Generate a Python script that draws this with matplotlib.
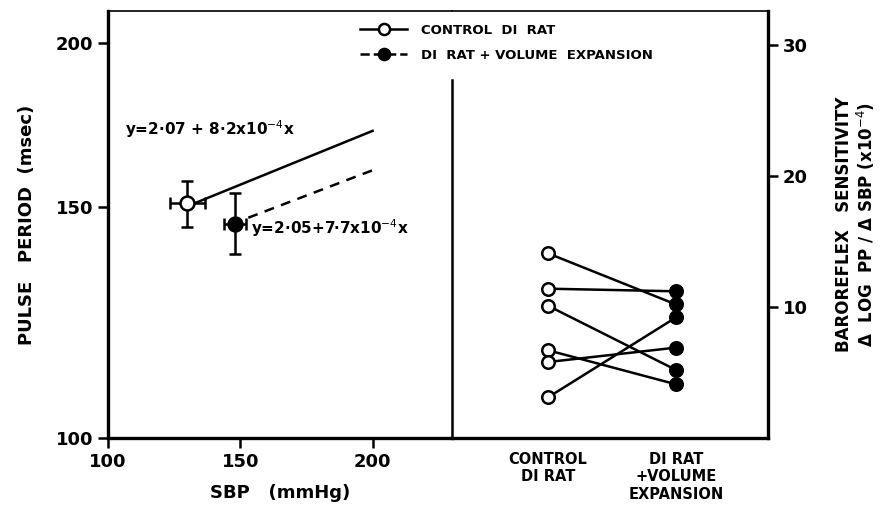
import matplotlib
matplotlib.use("Agg")
import matplotlib.pyplot as plt
from matplotlib.ticker import FixedLocator, NullLocator, FixedFormatter

# ---- data ----
# left panel: mean points (SBP mmHg, pulse period msec) with error bars
ctrl_sbp, ctrl_pp = 130, 151
ctrl_sbp_err, ctrl_pp_lo, ctrl_pp_hi = 6.5, 144.8, 157
vol_sbp, vol_pp = 148, 145.5
vol_sbp_err, vol_pp_lo, vol_pp_hi = 4, 138, 153.6
# regression lines: log PP = a + b * SBP
ctrl_a, ctrl_b = 2.07, 8.2e-4
vol_a, vol_b = 2.05, 7.7e-4
ctrl_line_sbp = [131, 200]
vol_line_sbp = [153, 200]

# right panel: baroreflex sensitivity (x1e-4), paired
categories = ["CONTROL\nDI RAT", "DI RAT\n+VOLUME\nEXPANSION"]
control_bs = [14.1, 11.4, 10.1, 6.7, 5.8, 3.1]
volume_bs = [10.2, 11.2, 5.2, 4.1, 6.9, 9.2]

left_yticks = [100, 150, 200]
left_xticks = [100, 150, 200]
right_yticks = [10, 20, 30]

# ---- figure ----
W, H = 881, 515
fig = plt.figure(figsize=(W / 100, H / 100), dpi=100)
plt.rcParams['font.family'] = ['DejaVu Sans']
fw = 'bold'

L, M, R = 108 / W, 452 / W, 768 / W
B, T = (H - 438) / H, (H - 11) / H
ax1 = fig.add_axes([L, B, M - L, T - B])
ax2 = fig.add_axes([M, B, R - M, T - B])

lw = 1.8
# left panel
ax1.set_yscale('log')
ax1.set_ylim(100, 211.5)
ax1.set_xlim(100, 230)

ys = [10 ** (ctrl_a + ctrl_b * s) for s in ctrl_line_sbp]
ax1.plot(ctrl_line_sbp, ys, color='black', lw=lw, zorder=2)
ys = [10 ** (vol_a + vol_b * s) for s in vol_line_sbp]
ax1.plot(vol_line_sbp, ys, color='black', lw=lw, ls=(0, (4, 3)), zorder=2)

ax1.errorbar([ctrl_sbp], [ctrl_pp], xerr=[[ctrl_sbp_err], [ctrl_sbp_err]],
             yerr=[[ctrl_pp - ctrl_pp_lo], [ctrl_pp_hi - ctrl_pp]],
             fmt='o', mfc='white', mec='black', mew=lw, ms=10, ecolor='black',
             elinewidth=lw, capsize=4, capthick=lw, zorder=3)
ax1.errorbar([vol_sbp], [vol_pp], xerr=[[vol_sbp_err], [vol_sbp_err]],
             yerr=[[vol_pp - vol_pp_lo], [vol_pp_hi - vol_pp]],
             fmt='o', mfc='black', mec='black', mew=lw, ms=10, ecolor='black',
             elinewidth=lw, capsize=4, capthick=lw, zorder=3)

ax1.text(106.5, 172, "y=2·07 + 8·2x10$^{-4}$x", fontsize=11, fontweight=fw, va='center')
ax1.text(154, 144.5, "y=2·05+7·7x10$^{-4}$x", fontsize=11, fontweight=fw, va='center')

ax1.yaxis.set_major_locator(FixedLocator(left_yticks))
ax1.yaxis.set_major_formatter(FixedFormatter([str(v) for v in left_yticks]))
ax1.yaxis.set_minor_locator(NullLocator())
ax1.set_xticks(left_xticks)
ax1.set_xticklabels([str(v) for v in left_xticks])
ax1.tick_params(axis='both', labelsize=13, width=lw, length=7, direction='out')
for lab in ax1.get_xticklabels() + ax1.get_yticklabels():
    lab.set_fontweight(fw)
ax1.spines['right'].set_visible(False)
for s in ['left', 'bottom']:
    ax1.spines[s].set_linewidth(lw + 0.6)
ax1.spines['top'].set_linewidth(1.2)
ax1.set_xlabel("SBP   (mmHg)", fontsize=13, fontweight=fw, labelpad=10)
ax1.set_ylabel("PULSE   PERIOD  (msec)", fontsize=13, fontweight=fw, labelpad=14)

# right panel
ax2.set_xlim(-0.75, 1.72)
ax2.set_ylim(0, 32.6)
for c, v in zip(control_bs, volume_bs):
    ax2.plot([0, 1], [c, v], color='black', lw=lw, zorder=2)
ax2.plot([0] * len(control_bs), control_bs, 'o', mfc='white', mec='black', mew=lw, ms=9, zorder=3)
ax2.plot([1] * len(volume_bs), volume_bs, 'o', mfc='black', mec='black', mew=lw, ms=9, zorder=3)

ax2.spines['left'].set_visible(False)
for s in ['right', 'bottom']:
    ax2.spines[s].set_linewidth(lw + 0.6)
ax2.spines['top'].set_linewidth(1.2)
ax2.plot([0, 0], [0, (438 - 80) / 427], transform=ax2.transAxes, color='black',
         lw=lw, clip_on=False)
ax2.yaxis.tick_right()
ax2.yaxis.set_label_position('right')
ax2.set_yticks(right_yticks)
ax2.set_yticklabels([str(v) for v in right_yticks])
ax2.tick_params(axis='y', labelsize=13, width=lw, length=7, direction='out')
ax2.set_xticks([0, 1])
ax2.set_xticklabels(categories)
ax2.tick_params(axis='x', length=0, labelsize=10.5, pad=10)
for lab in ax2.get_xticklabels() + ax2.get_yticklabels():
    lab.set_fontweight(fw)
ax2.set_ylabel("BAROREFLEX   SENSITIVITY\nΔ  LOG  PP / Δ SBP (x10$^{-4}$)",
               fontsize=12, fontweight=fw, labelpad=20, linespacing=1.1)

# legend
h1, = ax1.plot([], [], '-o', color='black', mfc='white', mec='black', mew=lw, ms=8, lw=lw)
h2, = ax1.plot([], [], '--o', color='black', mfc='black', mec='black', mew=lw, ms=8, lw=lw)
fig.legend([h1, h2], ["CONTROL  DI  RAT", "DI  RAT + VOLUME  EXPANSION"],
           loc='upper left', bbox_to_anchor=(348 / W, (H - 12) / H), frameon=False,
           prop={'size': 9.5, 'weight': fw}, handlelength=3.6, handletextpad=1.0,
           labelspacing=0.9)

fig.savefig("out.png", dpi=100)
